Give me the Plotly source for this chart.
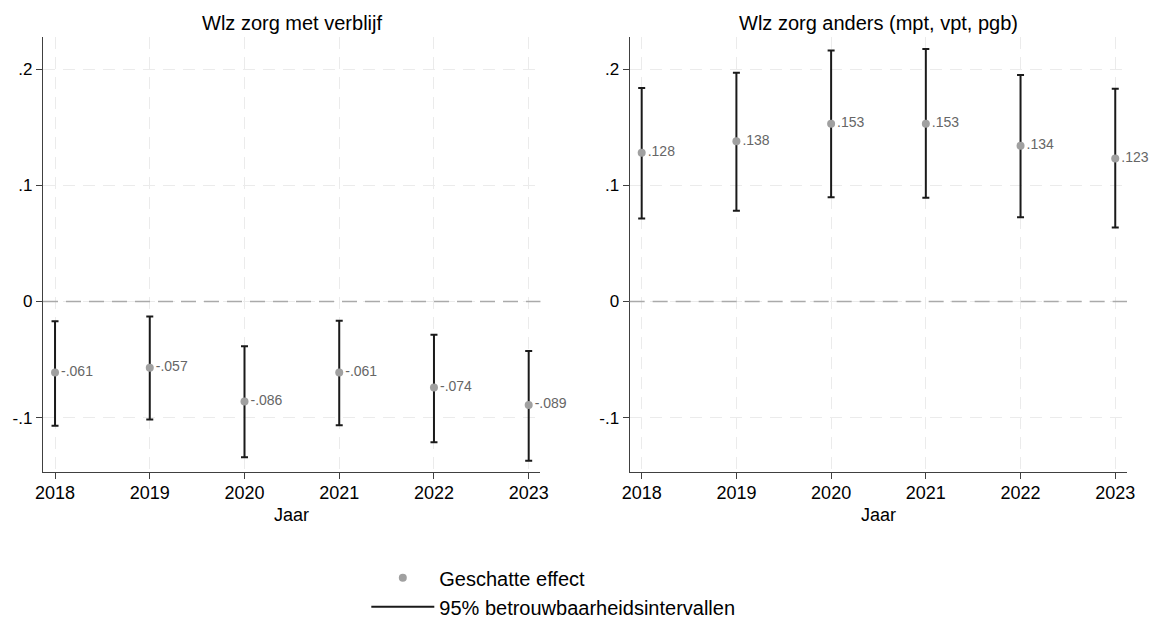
import plotly.graph_objects as go
from plotly.subplots import make_subplots

FONT = "Liberation Sans, Arial, sans-serif"
POINT_COLOR = "#a0a0a0"
BAR_COLOR = "#1a1a1a"
GRID_COLOR = "#ebebeb"
AXIS_COLOR = "#404040"

years = [2018, 2019, 2020, 2021, 2022, 2023]

# Wlz zorg met verblijf
verblijf_est = [-0.061, -0.057, -0.086, -0.061, -0.074, -0.089]
verblijf_lo = [-0.107, -0.1015, -0.134, -0.1065, -0.121, -0.137]
verblijf_hi = [-0.017, -0.013, -0.0385, -0.0165, -0.0285, -0.0425]

# Wlz zorg anders (mpt, vpt, pgb)
anders_est = [0.128, 0.138, 0.153, 0.153, 0.134, 0.123]
anders_lo = [0.0714, 0.0781, 0.0898, 0.0892, 0.0726, 0.0636]
anders_hi = [0.1837, 0.1968, 0.216, 0.2172, 0.195, 0.183]

titles = ["Wlz zorg met verblijf", "Wlz zorg anders (mpt, vpt, pgb)"]
y_ticks = [-0.1, 0, 0.1, 0.2]
y_ticklabels = ["-.1", "0", ".1", ".2"]


def stata_label(v):
    s = f"{v:.3f}"
    return s.replace("0.", ".", 1)


fig = make_subplots(rows=1, cols=2)

panels = [
    (verblijf_est, verblijf_lo, verblijf_hi),
    (anders_est, anders_lo, anders_hi),
]
for i, (est, lo, hi) in enumerate(panels):
    fig.add_trace(
        go.Scatter(
            x=years,
            y=est,
            mode="markers+text",
            text=[stata_label(v) for v in est],
            textposition="middle right",
            textfont=dict(family=FONT, size=14, color="#666666"),
            marker=dict(color=POINT_COLOR, size=8),
            error_y=dict(
                type="data",
                symmetric=False,
                array=[h - e for h, e in zip(hi, est)],
                arrayminus=[e - l for e, l in zip(est, lo)],
                color=BAR_COLOR,
                thickness=2,
                width=3.5,
            ),
            cliponaxis=False,
            name="Geschatte effect",
            showlegend=(i == 0),
        ),
        row=1,
        col=i + 1,
    )
    fig.add_hline(
        y=0, line=dict(color="#aaaaaa", width=1.5, dash="15px,8px"), row=1, col=i + 1
    )

fig.add_trace(
    go.Scatter(
        x=[None],
        y=[None],
        mode="lines",
        line=dict(color=BAR_COLOR, width=2),
        name="95% betrouwbaarheidsintervallen",
    ),
    row=1,
    col=1,
)

axis_common = dict(
    showline=True,
    linecolor=AXIS_COLOR,
    linewidth=1.3,
    ticks="outside",
    ticklen=6,
    tickcolor=AXIS_COLOR,
    showgrid=True,
    gridcolor=GRID_COLOR,
    griddash="12px,8px",
    zeroline=False,
    mirror=False,
    automargin=False,
)

for c in (1, 2):
    fig.update_xaxes(
        axis_common,
        range=[2017.873, 2023.124],
        tickvals=years,
        tickfont=dict(family=FONT, size=18, color="#000000"),
        ticklabelstandoff=-2,
        row=1,
        col=c,
    )
    fig.update_yaxes(
        axis_common,
        range=[-0.1467, 0.2276],
        tickvals=y_ticks,
        ticktext=y_ticklabels,
        tickfont=dict(family=FONT, size=17, color="#000000"),
        row=1,
        col=c,
    )

fig.update_layout(
    xaxis=dict(domain=[0, 0.4589]),
    xaxis2=dict(domain=[0.5412, 1]),
)

annotations = []
for i, (t, dom) in enumerate(zip(titles, [[0, 0.4589], [0.5412, 1]])):
    mid = (dom[0] + dom[1]) / 2
    annotations.append(
        dict(
            text=t, x=mid, y=1.033, xref="paper", yref="paper",
            xanchor="center", yanchor="middle", showarrow=False,
            font=dict(family=FONT, size=20, color="#000000"),
        )
    )
    annotations.append(
        dict(
            text="Jaar", x=mid, y=-0.099, xref="paper", yref="paper",
            xanchor="center", yanchor="middle", showarrow=False,
            font=dict(family=FONT, size=18, color="#000000"),
        )
    )

fig.update_layout(
    width=1153,
    height=619,
    margin=dict(l=43, r=26, t=37, b=147, autoexpand=False),
    paper_bgcolor="white",
    plot_bgcolor="white",
    annotations=annotations,
    showlegend=True,
    legend=dict(
        xref="container",
        yref="container",
        x=0.3177,
        y=0.098,
        xanchor="left",
        yanchor="top",
        font=dict(family=FONT, size=20, color="#000000"),
        itemwidth=63,
        bgcolor="rgba(0,0,0,0)",
    ),
)

# drop the default page margin so the figure sits at the window's corner
fig.write_html(
    "out.html",
    config={"displayModeBar": False},
    post_script="document.body.style.margin='0';",
)
